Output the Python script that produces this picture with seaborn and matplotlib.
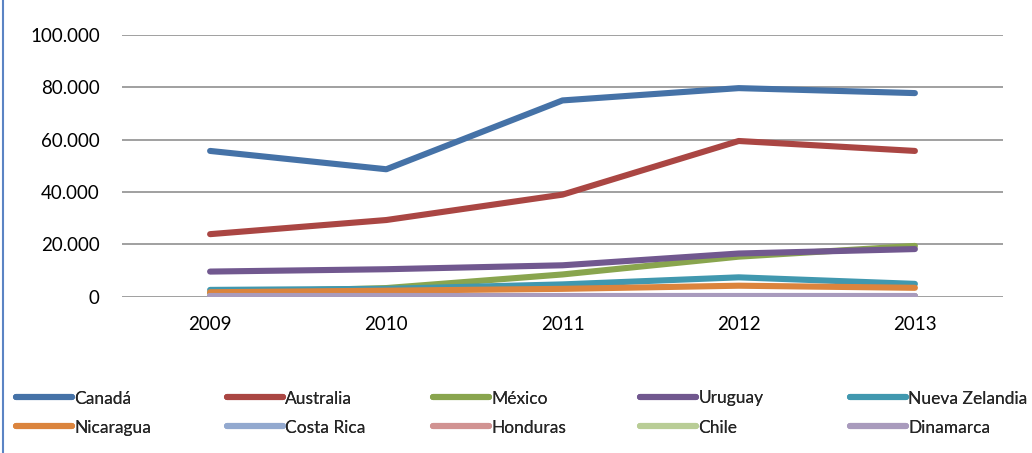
import matplotlib
matplotlib.use("Agg")
import matplotlib.pyplot as plt
import matplotlib.ticker as mticker
import numpy as np
import pandas as pd
import seaborn as sns
from matplotlib.lines import Line2D

YEARS = ["2009", "2010", "2011", "2012", "2013"]
COUNTRIES = [
    "Canadá", "Australia", "México", "Uruguay", "Nueva Zelandia",
    "Nicaragua", "Costa Rica", "Honduras", "Chile", "Dinamarca",
]

canada = [55700, 48700, 75000, 79700, 77800]
australia = [23900, 29300, 39000, 59500, 55700]
mexico = [1500, 3300, 8500, 15300, 19400]
uruguay = [9600, 10500, 12000, 16500, 18200]
nueva_zelandia = [2600, 3000, 4700, 7400, 4900]
nicaragua = [1700, 2300, 3000, 4200, 3400]
costa_rica = [200, 200, 250, 250, 250]
honduras = [150, 150, 200, 200, 200]
chile = [100, 150, 150, 200, 200]
dinamarca = [300, 300, 300, 300, 300]

SERIES = [canada, australia, mexico, uruguay, nueva_zelandia,
          nicaragua, costa_rica, honduras, chile, dinamarca]

COLORS = ["#4572A7", "#AA4643", "#89A54E", "#71588F", "#4198AF",
          "#DB843D", "#93A9CF", "#D19392", "#B9CD96", "#A99BBD"]

# left edge (px) of each legend column in the reference
LEGEND_COLUMNS_PX = [16, 227, 433, 640, 850]


def build_frame() -> pd.DataFrame:
    rows = []
    for name, vals in zip(COUNTRIES, SERIES):
        for i, v in enumerate(vals):
            rows.append({"pos": i, "country": name, "value": v})
    return pd.DataFrame(rows)


def thousands(x, _pos):
    return f"{int(round(x)):,}".replace(",", ".")


def main() -> None:
    sns.set_theme(style="white")
    plt.rcParams["font.family"] = ["Lato", "DejaVu Sans"]

    df = build_frame()

    fig = plt.figure(figsize=(10.32, 4.53), dpi=100)
    ax = fig.add_axes([122 / 1032, 1 - 296.7 / 453, 881 / 1032, (296.7 - 35) / 453])

    sns.lineplot(
        data=df, x="pos", y="value", hue="country", hue_order=COUNTRIES,
        palette=COLORS, linewidth=4.4, ax=ax, legend=False,
        solid_capstyle="round", solid_joinstyle="round",
    )

    ax.set_xlim(-0.5, len(YEARS) - 0.5)
    ax.set_ylim(0, 100000)
    ax.set_xticks(range(len(YEARS)))
    ax.set_xticklabels(YEARS)
    ax.set_yticks(np.arange(0, 100001, 20000))
    ax.yaxis.set_major_formatter(mticker.FuncFormatter(thousands))
    ax.set_xlabel("")
    ax.set_ylabel("")
    ax.tick_params(axis="both", length=0, labelsize=13.5, colors="#000000")
    ax.tick_params(axis="y", pad=16)
    ax.tick_params(axis="x", pad=14)
    ax.yaxis.grid(True, color="#868686", linewidth=1.1)
    ax.set_axisbelow(True)
    for s in ax.spines.values():
        s.set_visible(False)

    # legend: one small legend per column so the columns sit where they do in the reference
    handles = [Line2D([], [], color=c, linewidth=4.4, solid_capstyle="round")
               for c in COLORS]
    for j, x_px in enumerate(LEGEND_COLUMNS_PX):
        idx = [j, j + 5]
        leg = fig.legend(
            [handles[i] for i in idx], [COUNTRIES[i] for i in idx],
            ncol=1, loc="upper left", bbox_to_anchor=(x_px / 1032, 1 - 390.5 / 453),
            frameon=False, fontsize=12.5, handlelength=3.25, handletextpad=0.1,
            labelspacing=0.75, borderpad=0, borderaxespad=0,
        )
        fig.add_artist(leg)

    # left border of the chart frame
    fig.add_artist(Line2D([2.5 / 1032, 2.5 / 1032], [0, 1], color="#5B84C4",
                          linewidth=1.5, transform=fig.transFigure))

    fig.savefig("out.png", dpi=100)
    plt.close(fig)


if __name__ == "__main__":
    main()
